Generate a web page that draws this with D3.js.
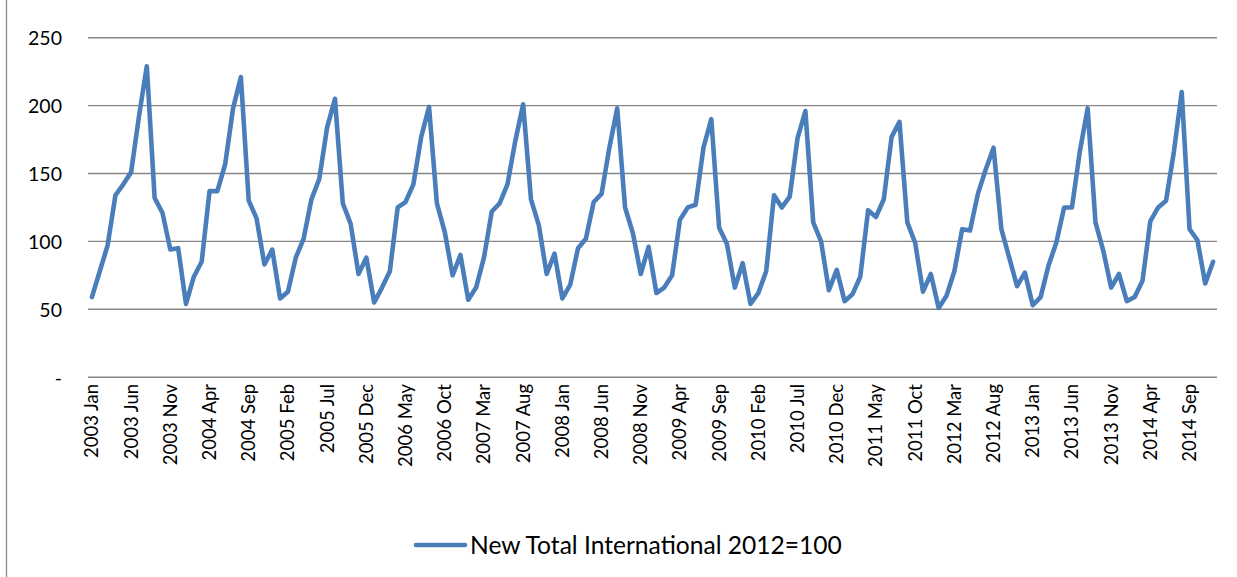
<!DOCTYPE html>
<html><head><meta charset="utf-8">
<script src="https://cdn.jsdelivr.net/npm/d3@7"></script>
<style>body{margin:0;background:#fff}svg{display:block}</style>
</head><body>
<script>
// ---- data ----
const years = [2003,2004,2005,2006,2007,2008,2009,2010,2011,2012,2013,2014];
const monthNames = ["Jan","Feb","Mar","Apr","May","Jun","Jul","Aug","Sep","Oct","Nov","Dec"];
const seriesName = "New Total International 2012=100";
const values = [
 59,78,97,134,142,151,192,229,132,121,94,95,
 54,74,85,137,137,157,198,221,130,117,83,94,
 58,63,88,102,131,146,184,205,128,113,76,88,
 55,66,78,125,129,142,177,199,128,107,75,90,
 57,66,88,122,128,142,174,201,131,112,76,91,
 58,68,95,102,129,135,169,198,125,106,76,96,
 62,66,75,116,125,127,169,190,110,98,66,84,
 54,62,78,134,125,133,176,196,114,100,64,79,
 56,61,74,123,118,131,177,188,114,99,63,76,
 51,60,78,109,108,135,153,169,109,88,67,77,
 53,59,82,99,125,125,166,198,114,93,66,76,
 56,59,71,115,125,130,166,210,109,101,69,85
];
const yTicks = [0,50,100,150,200,250];
const yTickLabels = ["-","50","100","150","200","250"];
const labelEvery = 5;

const categories = [];
years.forEach(y => monthNames.forEach(m => categories.push(y + " " + m)));

const W = 1237, H = 577;
const svg = d3.select("body").append("svg").attr("width", W).attr("height", H);
const font = "Lato, 'Open Sans', sans-serif";

// helper: font size so that a sample string has a given width
function fitSize(sample, target) {
  const t = svg.append("text").attr("font-family", font).attr("font-size", 20).text(sample);
  const w = t.node().getComputedTextLength();
  t.remove();
  return 20 * target / w;
}
const legendSize = fitSize(seriesName, 372);
const xLabelSize = fitSize("2003 Jan", 74);
const yLabelSize = fitSize("250", 34);

// outer chart border (left edge visible)
svg.append("line").attr("x1",6.5).attr("x2",6.5).attr("y1",0).attr("y2",H)
  .attr("stroke","#8c8c8c").attr("stroke-width",1.3);

const x = d3.scaleBand().domain(categories).range([88, 1217]);
const y = d3.scaleLinear().domain([0, 250]).range([377.2, 37.7]);

// gridlines
svg.append("g").selectAll("line").data(yTicks).join("line")
  .attr("x1", 88).attr("x2", 1217)
  .attr("y1", d => y(d)).attr("y2", d => y(d))
  .attr("stroke", "#868686").attr("stroke-width", 1.4);

// y axis labels
const yAxis = d3.axisLeft(y).tickValues(yTicks)
  .tickFormat((d,i) => yTickLabels[i]).tickSize(0).tickPadding(0);
const gy = svg.append("g").attr("transform","translate(62,0)").call(yAxis);
gy.select(".domain").remove();
gy.selectAll("text").attr("font-family", font).attr("font-size", yLabelSize).attr("fill","#000")
  .attr("dy","0.35em");

// x axis labels
const xAxis = d3.axisBottom(x)
  .tickValues(categories.filter((d,i) => i % labelEvery === 0))
  .tickSize(0).tickPadding(0);
const gx = svg.append("g").attr("transform","translate(0,384)").call(xAxis);
gx.select(".domain").remove();
gx.selectAll("text")
  .attr("font-family", font).attr("font-size", xLabelSize).attr("fill","#000")
  .attr("text-anchor","end")
  .attr("transform","rotate(-90)")
  .attr("x", 0).attr("y", 0).attr("dy", "0.35em");
gx.selectAll(".tick").each(function(d){
  d3.select(this).attr("transform", `translate(${x(d)+x.bandwidth()/2},0)`);
});

// line
const line = d3.line()
  .x((d,i) => x(categories[i]) + x.bandwidth()/2)
  .y(d => y(d));
svg.append("path").datum(values)
  .attr("d", line).attr("fill","none")
  .attr("stroke","#4a7ebb").attr("stroke-width",4.6)
  .attr("stroke-linejoin","round").attr("stroke-linecap","round");

// legend
const lg = svg.append("g");
lg.append("line").attr("x1",416).attr("x2",465).attr("y1",545).attr("y2",545)
  .attr("stroke","#4a7ebb").attr("stroke-width",4.6).attr("stroke-linecap","round");
lg.append("text").attr("x",470).attr("y",545).attr("dy","0.35em")
  .attr("font-family", font).attr("font-size",legendSize).attr("fill","#000")
  .text(seriesName);
</script>
</body></html>
